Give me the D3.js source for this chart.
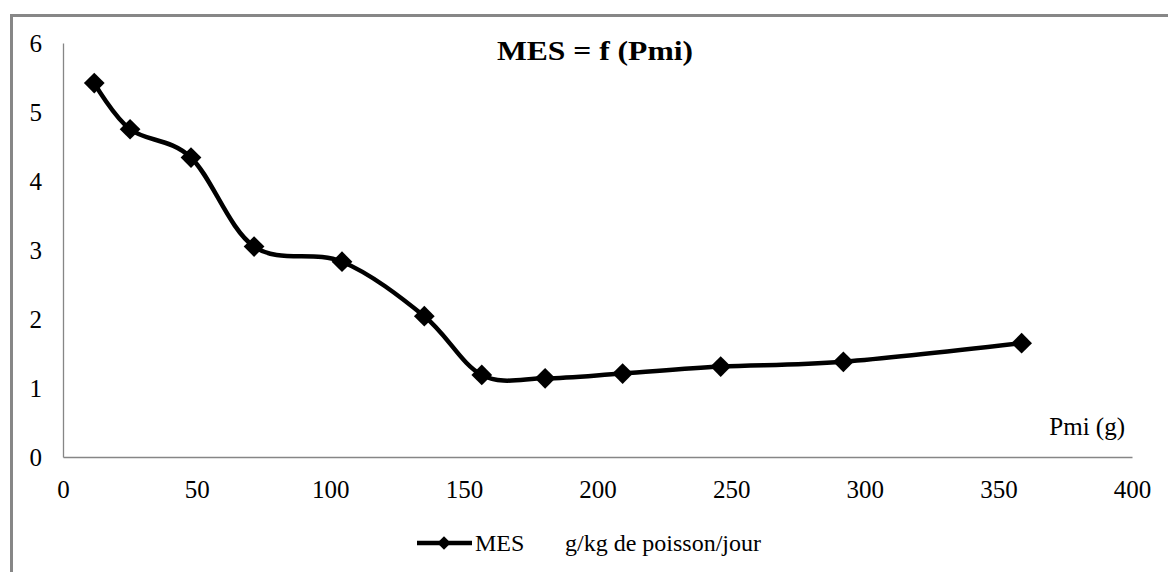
<!DOCTYPE html>
<html>
<head>
<meta charset="utf-8">
<script src="https://cdn.jsdelivr.net/npm/d3@7"></script>
<style>
  html, body { margin: 0; padding: 0; background: #fff; }
  svg { display: block; }
  svg text { font-family: "Liberation Serif", "Times New Roman", serif !important; fill: #000; }
</style>
</head>
<body>
<svg id="chart" width="1168" height="572"></svg>
<script>
// ---- data ----
const pmi = [11.7, 25.1, 47.9, 71.5, 104.4, 135.2, 156.7, 180.4, 209.4, 246.1, 292.0, 358.7];
const mes = [5.42, 4.75, 4.34, 3.05, 2.83, 2.04, 1.19, 1.14, 1.21, 1.31, 1.38, 1.65];
const xTicks = [0, 50, 100, 150, 200, 250, 300, 350, 400];
const yTicks = [0, 1, 2, 3, 4, 5, 6];
const title = "MES = f (Pmi)";
const xLabel = "Pmi (g)";
const seriesName = "MES";
const unitLabel = "g/kg de poisson/jour";

const FONT = "'Liberation Serif', 'Times New Roman', serif";
const svg = d3.select("#chart");
const W = 1168, H = 572;
svg.append("rect").attr("x", 0).attr("y", 0).attr("width", W).attr("height", H).attr("fill", "#fff");

// outer chart border
svg.append("rect")
  .attr("x", 11.5).attr("y", 15.5)
  .attr("width", 1180).attr("height", 600)
  .attr("fill", "none").attr("stroke", "#878787").attr("stroke-width", 3);

const x = d3.scaleLinear().domain([0, 400]).range([63, 1132]);
const y = d3.scaleLinear().domain([0, 6]).range([457, 43]);

// axes
const xAxis = d3.axisBottom(x).tickValues(xTicks).tickSize(0).tickPadding(23).tickFormat(d3.format("d"));
const gx = svg.append("g").attr("transform", `translate(0,${y(0)})`).call(xAxis)
  .attr("font-family", FONT).attr("font-size", 25);
gx.select(".domain").attr("stroke", "#868686").attr("stroke-width", 1.3);
gx.selectAll("text").attr("fill", "#000");

const yAxis = d3.axisLeft(y).tickValues(yTicks).tickSize(0).tickPadding(21).tickFormat(d3.format("d"));
const gy = svg.append("g").attr("transform", `translate(${x(0)},0)`).call(yAxis)
  .attr("font-family", FONT).attr("font-size", 25);
gy.select(".domain").attr("stroke", "#868686").attr("stroke-width", 1.3);
gy.selectAll("text").attr("fill", "#000");

// title
svg.append("text")
  .attr("x", 595).attr("y", 60)
  .attr("text-anchor", "middle")
  .attr("font-family", FONT)
  .attr("font-size", 28).attr("font-weight", "bold")
  .attr("textLength", 196).attr("lengthAdjust", "spacingAndGlyphs")
  .text(title);

// x axis title
svg.append("text")
  .attr("x", 1125).attr("y", 435)
  .attr("text-anchor", "end")
  .attr("font-family", FONT)
  .attr("font-size", 25)
  .text(xLabel);

// line
const pts = pmi.map((v, i) => [v, mes[i]]);
const line = d3.line()
  .x(d => x(d[0])).y(d => y(d[1]))
  .curve(d3.curveCatmullRom.alpha(0));
svg.append("path")
  .datum(pts)
  .attr("d", line)
  .attr("fill", "none").attr("stroke", "#000").attr("stroke-width", 4.5)
  .attr("stroke-linejoin", "round");

// markers (diamonds)
const diamond = d3.symbol(d3.symbolSquare, 215);
svg.append("g").selectAll("path")
  .data(pts).join("path")
  .attr("d", diamond)
  .attr("transform", d => `translate(${x(d[0])},${y(d[1])}) rotate(45)`)
  .attr("fill", "#000");

// legend
const lg = svg.append("g").attr("font-family", FONT);
lg.append("line").attr("x1", 417).attr("x2", 472).attr("y1", 543).attr("y2", 543)
  .attr("stroke", "#000").attr("stroke-width", 4.5);
lg.append("path").attr("d", d3.symbol(d3.symbolSquare, 90))
  .attr("transform", "translate(444,543) rotate(45)").attr("fill", "#000");
lg.append("text").attr("x", 475).attr("y", 551).attr("font-size", 24).text(seriesName);
lg.append("text").attr("x", 565).attr("y", 551).attr("font-size", 24).text(unitLabel);
</script>
</body>
</html>
